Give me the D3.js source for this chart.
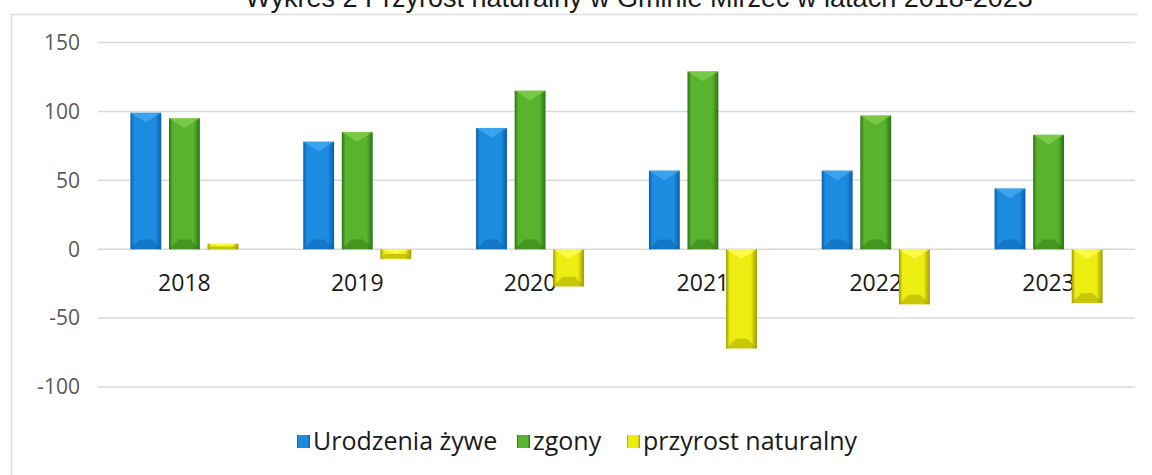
<!DOCTYPE html>
<html lang="pl">
<head>
  <meta charset="UTF-8">
  <title>Przyrost naturalny</title>
  <style>
    body {
      margin: 0;
      background: #fff;
      overflow: hidden;
    }
    .tick-label {
      font-family: "Open Sans", "Noto Sans", sans-serif;
      font-size: 21px;
      fill: #595959;
    }
    .cat-label {
      font-family: "Open Sans", "Noto Sans", sans-serif;
      font-size: 23px;
      fill: #1a1a1a;
    }
    .legend-label {
      font-family: "Open Sans", "Noto Sans", sans-serif;
      font-size: 25px;
      fill: #1a1a1a;
    }
    .title {
      font-family: "Liberation Sans", Arial, sans-serif;
      font-size: 27px;
      fill: #1a1a1a;
    }
  </style>
</head>
<body>
  <svg id="chart" width="1152" height="475"></svg>
  <script src="https://d3js.org/d3.v7.min.js"></script>
  <script>
    // chart data
    const years = ["2018", "2019", "2020", "2021", "2022", "2023"];
    const births = [99, 78, 88, 57, 57, 44];
    const deaths = [95, 85, 115, 129, 97, 83];
    const growth = [4, -7, -27, -72, -40, -39];
    const seriesNames = ["Urodzenia żywe", "zgony", "przyrost naturalny"];
    const yTicks = [-100, -50, 0, 50, 100, 150];

    const seriesValues = [births, deaths, growth];
    // colours: edge, main, highlight
    const palette = [
      ["#0b5ea8", "#1c8ce0", "#45a9f2"],
      ["#2c7212", "#58b42c", "#86d04f"],
      ["#9c9c00", "#eded12", "#ffff5a"]
    ];

    const svg = d3.select("#chart");
    const left = 98, right = 1135;

    const x = d3.scaleBand().domain(years).range([left, right]).padding(0);
    const groupW = 108;
    const inner = d3.scaleBand()
      .domain(d3.range(3))
      .range([(x.bandwidth() - groupW) / 2, (x.bandwidth() + groupW) / 2])
      .paddingInner(0.2);
    const y = d3.scaleLinear().domain([-100, 150]).range([387, 42.5]);

    // gradients for the bevelled bars
    const defs = svg.append("defs");
    palette.forEach((c, i) => {
      const grad = defs.append("linearGradient")
        .attr("id", "grad" + i)
        .attr("x1", "0%").attr("x2", "100%").attr("y1", "0%").attr("y2", "0%");
      grad.append("stop").attr("offset", "0%").attr("stop-color", c[0]);
      grad.append("stop").attr("offset", "12%").attr("stop-color", c[1]);
      grad.append("stop").attr("offset", "45%").attr("stop-color", c[1]);
      grad.append("stop").attr("offset", "80%").attr("stop-color", c[1]);
      grad.append("stop").attr("offset", "100%").attr("stop-color", c[0]);
    });

    // chart frame
    svg.append("path")
      .attr("d", "M11.5,475 L11.5,14.5 L1138,14.5")
      .attr("fill", "none")
      .attr("stroke", "#dcdcdc")
      .attr("stroke-width", 1.5);

    // title (cut off at top like in the scan)
    svg.append("text")
      .attr("class", "title")
      .attr("x", 639)
      .attr("y", 7)
      .attr("text-anchor", "middle")
      .text("Wykres 2 Przyrost naturalny w Gminie Mirzec w latach 2018-2023");

    // gridlines and y labels
    svg.append("g")
      .selectAll("line")
      .data(yTicks)
      .join("line")
      .attr("x1", left).attr("x2", right)
      .attr("y1", d => y(d)).attr("y2", d => y(d))
      .attr("stroke", "#d9d9d9")
      .attr("stroke-width", 1.5);

    svg.append("g")
      .selectAll("text")
      .data(yTicks)
      .join("text")
      .attr("class", "tick-label")
      .attr("x", 80)
      .attr("y", d => y(d))
      .attr("dy", "0.35em")
      .attr("text-anchor", "end")
      .text(d => d);

    // category labels sit under the zero line
    svg.append("g")
      .selectAll("text")
      .data(years)
      .join("text")
      .attr("class", "cat-label")
      .attr("x", d => x(d) + x.bandwidth() / 2)
      .attr("y", y(0) + 42)
      .attr("text-anchor", "middle")
      .text(d => d);

    // bars
    seriesValues.forEach((vals, s) => {
      const g = svg.append("g");
      const w = inner.bandwidth();
      years.forEach((yr, i) => {
        const v = vals[i];
        const bx = x(yr) + inner(s);
        const top = Math.min(y(v), y(0));
        const h = Math.abs(y(v) - y(0));
        g.append("rect")
          .attr("x", bx).attr("y", top)
          .attr("width", w).attr("height", h)
          .attr("fill", `url(#grad${s})`);
        // bevel facets
        const b = Math.min(w / 3.2, h / 2);
        g.append("path")
          .attr("d", `M${bx},${top} L${bx + w},${top} L${bx + w / 2},${top + b} Z`)
          .attr("fill", palette[s][2])
          .attr("opacity", 0.75);
        g.append("path")
          .attr("d", `M${bx},${top + h} L${bx + w},${top + h} L${bx + w - b},${top + h - b} L${bx + b},${top + h - b} Z`)
          .attr("fill", palette[s][0])
          .attr("opacity", 0.45);
      });
    });

    // legend
    const legendX = [297, 517, 627];
    const legend = svg.append("g");
    seriesNames.forEach((name, s) => {
      legend.append("rect")
        .attr("x", legendX[s]).attr("y", 435)
        .attr("width", 13).attr("height", 13)
        .attr("fill", `url(#grad${s})`);
      legend.append("text")
        .attr("class", "legend-label")
        .attr("x", legendX[s] + 16)
        .attr("y", 450)
        .text(name);
    });
  </script>
</body>
</html>
